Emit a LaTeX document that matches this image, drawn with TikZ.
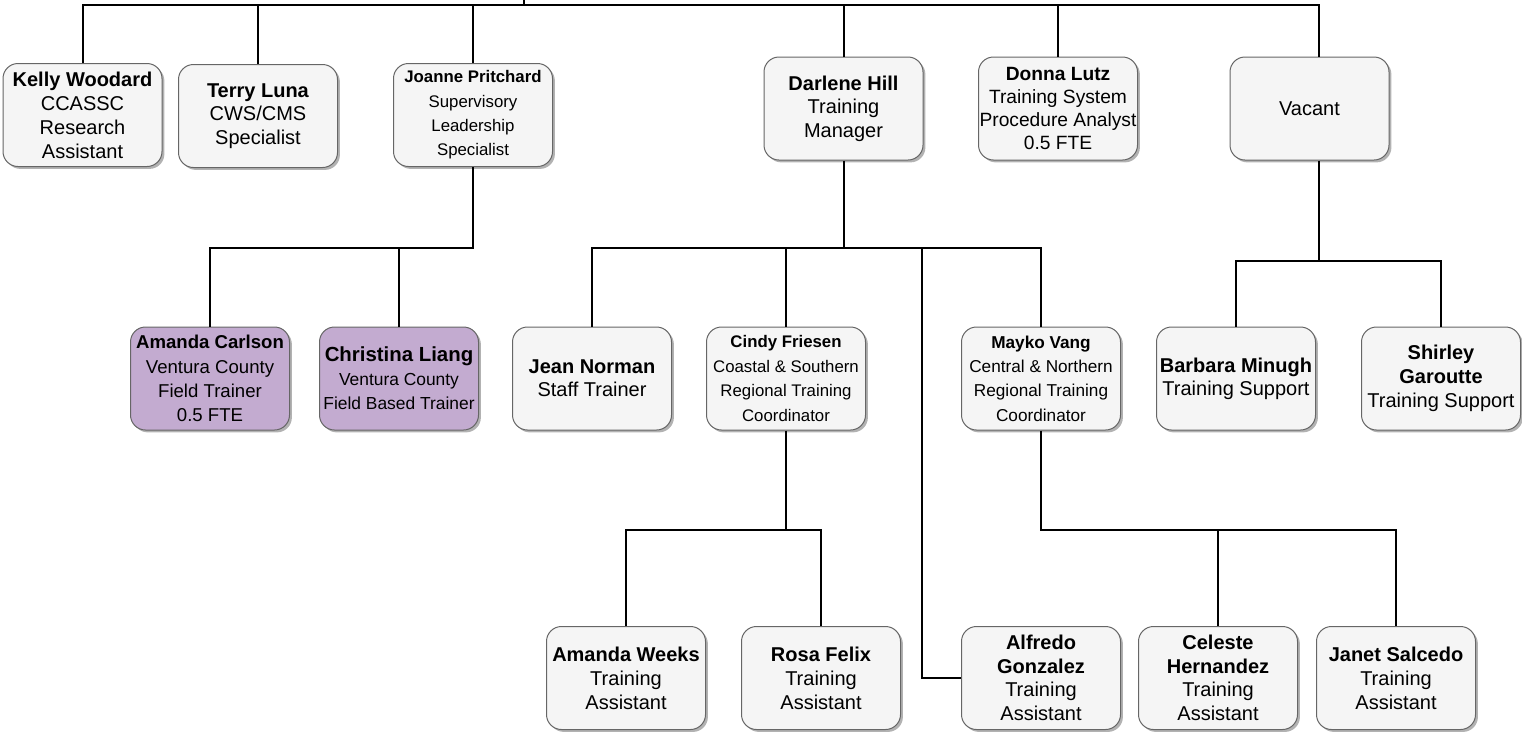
\documentclass[tikz,border=0pt]{standalone}
\usepackage{fontspec}
\setmainfont{Liberation Sans}
\usepackage{tikz}
\usetikzlibrary{shadows}

\definecolor{boxfill}{HTML}{F5F5F5}
\definecolor{boxline}{HTML}{666666}
\definecolor{countyfill}{HTML}{C3ABD0}

\tikzset{
   person/.style={draw=boxline, fill=boxfill, line width=0.5pt, rounded corners=7.5pt,
      minimum width=79.5pt, minimum height=51.5pt, inner sep=0.5pt, align=center,
      drop shadow={shadow xshift=1.2pt, shadow yshift=-1.2pt, fill=black, opacity=0.3},
      font=\fontsize{10}{12}\selectfont},
   smalltext/.style={font=\fontsize{8.4}{12.2}\selectfont},
   county/.style={fill=countyfill},
   orgline/.style={draw=black, line width=1pt},
}

\begin{document}
\begin{tikzpicture}[x=0.5pt, y=-0.5pt]
   \useasboundingbox (0,0) rectangle (1522,735);

   \draw (82.5,115) node[person] (kelly) {\textbf{Kelly Woodard}\\CCASSC\\Research\\Assistant};
   \draw (258,116) node[person, font=\fontsize{10}{11.8}\selectfont] (terry) {\textbf{Terry Luna}\\CWS/CMS\\Specialist};
   \draw (473,115) node[person, smalltext] (joanne) {\textbf{Joanne Pritchard}\\Supervisory\\Leadership\\Specialist};
   \draw (843.5,108.5) node[person, font=\fontsize{10}{11.8}\selectfont] (darlene) {\textbf{Darlene Hill}\\Training\\Manager};
   \draw (1058,108.5) node[person, font=\fontsize{9.6}{11.6}\selectfont] (donna) {\textbf{Donna Lutz}\\Training System\\Procedure Analyst\\0.5 FTE};
   \draw (1309.5,108.5) node[person] (vacant) {Vacant};

   \draw (210,378.5) node[person, county, font=\fontsize{9.3}{12.1}\selectfont] (amandac) {\textbf{Amanda Carlson}\\Ventura County\\Field Trainer\\0.5 FTE};
   \draw (399,378.5) node[person, county, font=\fontsize{8.7}{12}\selectfont] (christina) {{\fontsize{10.2}{12}\selectfont\bfseries Christina Liang}\\Ventura County\\Field Based Trainer};
   \draw (592,378.5) node[person, font=\fontsize{10}{11.6}\selectfont] (jean) {\textbf{Jean Norman}\\Staff Trainer};
   \draw (786,378.5) node[person, smalltext] (cindy) {\textbf{Cindy Friesen}\\Coastal \& Southern\\Regional Training\\Coordinator};
   \draw (1041,378.5) node[person, font=\fontsize{8.6}{12.2}\selectfont] (mayko) {\textbf{Mayko Vang}\\Central \& Northern\\Regional Training\\Coordinator};
   \draw (1236,378.5) node[person, font=\fontsize{10}{11.6}\selectfont] (barbara) {\textbf{Barbara Minugh}\\Training Support};
   \draw (1441,378.5) node[person] (shirley) {\textbf{Shirley}\\\textbf{Garoutte}\\Training Support};

   \draw (626,678) node[person] (amandaw) {\textbf{Amanda Weeks}\\Training\\Assistant};
   \draw (821,678) node[person] (rosa) {\textbf{Rosa Felix}\\Training\\Assistant};
   \draw (1041,678) node[person, font=\fontsize{10}{11.8}\selectfont] (alfredo) {\textbf{Alfredo}\\\textbf{Gonzalez}\\Training\\Assistant};
   \draw (1218,678) node[person, font=\fontsize{10}{11.8}\selectfont] (celeste) {\textbf{Celeste}\\\textbf{Hernandez}\\Training\\Assistant};
   \draw (1396,678) node[person] (janet) {\textbf{Janet Salcedo}\\Training\\Assistant};

   \coordinate (root) at (524,0);
   \coordinate (topbus) at (524,5);
   \coordinate (vacin) at (1319,5);
   \coordinate (vacout) at (1319,261);
   \coordinate (jbus) at (473,248);
   \coordinate (dbus) at (843.5,248);
   \coordinate (alfdrop) at (922,248);
   \coordinate (cbus) at (786,530);
   \coordinate (mbus) at (1038,530);

   \draw[orgline] (root) -- (topbus);
   \draw[orgline] (kelly.north) |- (vacin) -- (vacin |- vacant.north);
   \draw[orgline] (terry.north) -- (terry.north |- topbus);
   \draw[orgline] (joanne.north) -- (joanne.north |- topbus);
   \draw[orgline] (darlene.north) -- (darlene.north |- topbus);
   \draw[orgline] (donna.north) -- (donna.north |- topbus);

   \draw[orgline] (joanne.south) |- (amandac.north |- jbus) -- (amandac.north);
   \draw[orgline] (christina.north) -- (christina.north |- jbus);

   \draw[orgline] (darlene.south) -- (darlene.south |- dbus);
   \draw[orgline] (jean.north) |- (mayko.north |- dbus) -- (mayko.north);
   \draw[orgline] (cindy.north) -- (cindy.north |- dbus);
   \draw[orgline] (alfdrop) |- (alfredo.west);

   \draw[orgline] (vacin |- vacant.south) -- (vacout);
   \draw[orgline] (barbara.north) |- (shirley.north |- vacout) -- (shirley.north);

   \draw[orgline] (cindy.south) -- (cindy.south |- cbus);
   \draw[orgline] (amandaw.north) |- (rosa.north |- cbus) -- (rosa.north);
   \draw[orgline] (mayko.south) |- (janet.north |- mbus) -- (janet.north);
   \draw[orgline] (celeste.north) -- (celeste.north |- mbus);

\end{tikzpicture}
\end{document}
